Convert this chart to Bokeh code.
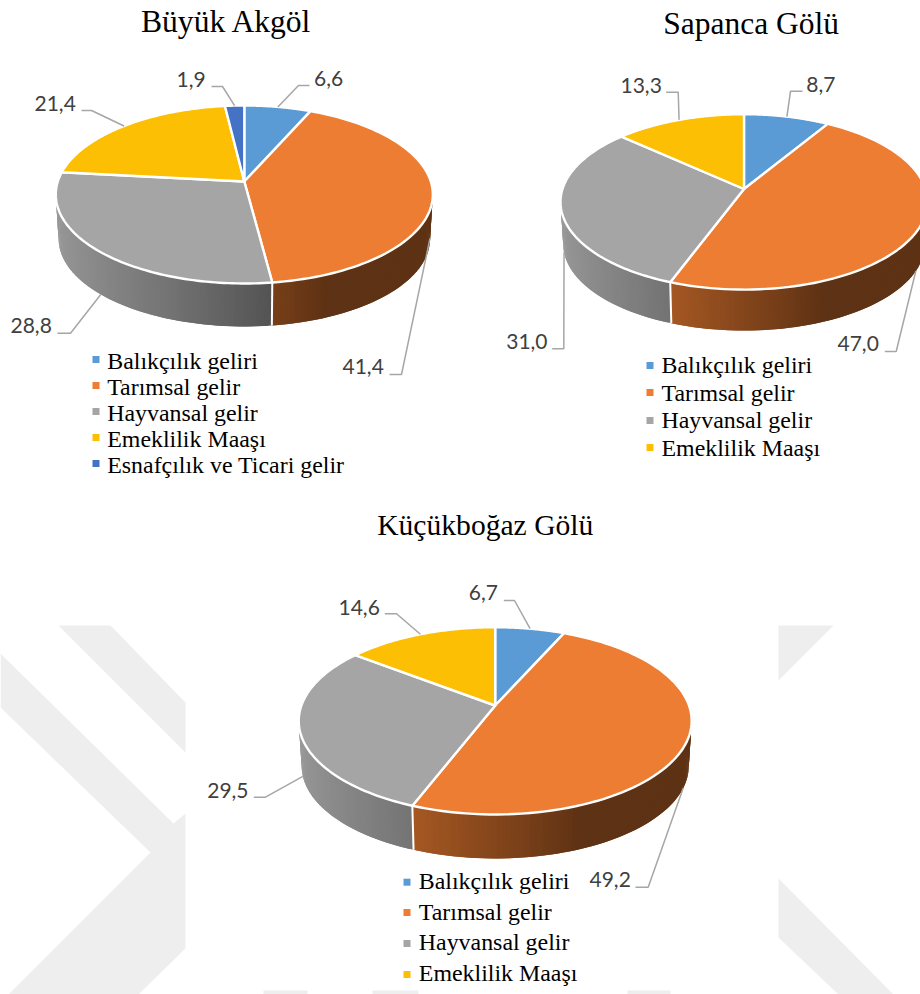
import numpy as np
from bokeh.plotting import figure
from bokeh.models import Range1d
from bokeh.core.properties import value
from bokeh.embed import file_html
from bokeh.resources import INLINE

# ---- data ----
categories = ["Balıkçılık geliri", "Tarımsal gelir", "Hayvansal gelir", "Emeklilik Maaşı", "Esnafçılık ve Ticari gelir"]
colors = ["#5B9BD5", "#EC7D32", "#A5A5A5", "#FCBF03", "#4472C4"]
buyuk_akgol = [6.6, 41.4, 28.8, 21.4, 1.9]
sapanca = [8.7, 47.0, 31.0, 13.3]
kucukbogaz = [6.7, 49.2, 29.5, 14.6]
labels_buyuk = ["6,6", "41,4", "28,8", "21,4", "1,9"]
labels_sapanca = ["8,7", "47,0", "31,0", "13,3"]
labels_kucuk = ["6,7", "49,2", "29,5", "14,6"]

# ---- layout (page pixels) ----
W, H = 920, 994
charts = [
    dict(title="Büyük Akgöl", tx=140.5, ty=30, tsize=31.6, vals=buyuk_akgol, labels=labels_buyuk,
         cx=243.8, cy=181, A=186.5, B=87.1, k=0.146, d=44.5,
         lab=[(313.5, 85.7), (342, 374), (10, 332.7), (34, 110.7), (176, 87)],
         elbow=[((309, 85), (298, 85)), ((389, 374), (401, 374)), ((57, 332.7), (70, 332.7)),
                ((81, 110), (91, 110)), ((211, 86), (222, 86))],
         lx=106.7, base=[367.7, 393.7, 419.7, 445.7, 471.7], mx=92, my=[359, 385, 411, 437, 463]),
    dict(title="Sapanca Gölü", tx=662.7, ty=32.3, tsize=31.5, vals=sapanca, labels=labels_sapanca,
         cx=743.5, cy=188.5, A=181.5, B=85.8, k=0.147, d=42.5,
         lab=[(805.7, 91.7), (837, 351), (505.7, 348.3), (620, 92.3)],
         elbow=[((802, 90.7), (790, 90.7)), ((884.3, 351), (895.7, 351)), ((551.7, 348.3), (563.3, 348.3)),
                ((665.7, 91.7), (677.7, 91.7))],
         lx=661, base=[371.7, 399, 426.7, 454], mx=646, my=[365, 392, 420, 447]),
    dict(title="Küçükboğaz Gölü", tx=376.7, ty=532.7, tsize=29.6, vals=kucukbogaz, labels=labels_kucuk,
         cx=494.7, cy=705, A=193.8, B=91.1, k=0.164, d=45.6,
         lab=[(468.3, 600), (589, 886.7), (206.7, 797.3), (338, 614.3)],
         elbow=[((503.3, 600), (514, 600)), ((635, 886.7), (647.7, 886.7)), ((253.3, 796.7), (265, 796.7)),
                ((384.3, 613.3), (396, 613.3))],
         lx=418.3, base=[887, 918, 948.7, 979.7], mx=403, my=[881.7, 912, 943, 974]),
]
SHRINK = 0.985
WATERMARK = "#EEEEEE"
INK = "#404040"
LEADER = "#A6A6A6"
SERIF_LIFT = 0.29   # Bokeh sets an "alphabetic" text this share of its size too low
SANS_LIFT = 0.36
bands = [
    ([58, 110, 185, 185], [625, 625, 702, 752]),
    ([0, 173, 185, 185, 138, 8, 150, 0], [653, 823, 813, 948, 994, 994, 852, 707]),
    ([778, 833, 778], [625, 625, 680]),
    ([778, 893, 838, 778], [878, 994, 994, 937]),
]
bottom_bits = [(263, 307), (372, 418), (627, 670)]

p = figure(width=W, height=H, output_backend="svg", toolbar_location=None,
           x_range=Range1d(0, W), y_range=Range1d(H, 0), min_border=0)
p.axis.visible = False
p.grid.visible = False
p.outline_line_color = None
p.background_fill_color = "white"
p.border_fill_color = "white"

p.patches([b[0] for b in bands], [b[1] for b in bands], fill_color=WATERMARK, line_color=None)
p.quad(left=[b[0] for b in bottom_bits], right=[b[1] for b in bottom_bits], top=990, bottom=994,
       fill_color=WATERMARK, line_color=None)


def shade(X):
    """Light falls from the left on the pie's wall."""
    return np.interp(X, [-1.0, -0.35, 0.15, 0.38, 1.0], [0.93, 0.70, 0.50, 0.40, 0.40])


def darker(hex_col, f):
    r, g, b = int(hex_col[1:3], 16), int(hex_col[3:5], 16), int(hex_col[5:7], 16)
    return "#%02x%02x%02x" % (int(r * f), int(g * f), int(b * f))


for c in charts:
    vals = np.array(c["vals"], dtype=float)
    edges = np.concatenate([[0], np.cumsum(vals) / vals.sum()]) * 2 * np.pi

    def rim(th, depth=0.0, s=1.0):
        X, Y = np.sin(th), -np.cos(th)
        w = 1 - c["k"] * Y
        return c["cx"] + s * c["A"] * X / w, c["cy"] + depth + s * c["B"] * Y / w

    # wall of the disc: overlapping strips, so no seams show
    for i, col in enumerate(colors[:len(vals)]):
        n = max(2, int((edges[i + 1] - edges[i]) / np.radians(1.0)))
        th = np.linspace(edges[i], edges[i + 1], n + 1)
        xs, ys, fc = [], [], []
        for j in range(n):
            a, b = th[j], th[min(j + 2, n)]
            mid = (th[j] + th[j + 1]) / 2
            if -np.cos(mid) < -0.35:
                continue
            xa, ya = rim(a)
            xb, yb = rim(b)
            xc, yc = rim(b, c["d"], SHRINK)
            xd, yd = rim(a, c["d"], SHRINK)
            xs.append([xa, xb, xc, xd])
            ys.append([ya, yb, yc, yd])
            fc.append(darker(col, float(shade(np.sin(mid)))))
        if xs:
            p.patches(xs, ys, fill_color=fc, line_color=None)

    # white joints on the wall
    for e in edges[:-1]:
        if -np.cos(e) > -0.2:
            x0, y0 = rim(e)
            x1, y1 = rim(e, c["d"], SHRINK)
            p.line([x0, x1], [y0, y1], line_color="white", line_width=2)

    # top face
    for i, col in enumerate(colors[:len(vals)]):
        th = np.linspace(edges[i], edges[i + 1], 90)
        x, y = rim(th)
        p.patch(np.r_[c["cx"], x], np.r_[c["cy"], y], fill_color=col, line_color="white",
                line_width=2.4, line_join="round")

    # leader lines and value labels
    mids = (edges[:-1] + edges[1:]) / 2
    for mid, (start, knee) in zip(mids, c["elbow"]):
        if -np.cos(mid) > 0.0:
            ax, ay = rim(mid, c["d"], SHRINK)
        else:
            ax, ay = rim(mid)
        p.line([start[0], knee[0], ax], [start[1], knee[1], ay], line_color=LEADER, line_width=1.5)
    p.text([q[0] for q in c["lab"]], [q[1] - SANS_LIFT * 21 for q in c["lab"]], text=c["labels"],
           text_font=value("Lato"), text_font_size="21px", text_color=INK,
           text_baseline="alphabetic", text_align="left")

    # title and legend
    p.text([c["tx"]], [c["ty"] - SERIF_LIFT * c["tsize"]], text=[c["title"]], text_font=value("Liberation Serif"),
           text_font_size=f'{c["tsize"]}px', text_color="black", text_baseline="alphabetic")
    m = len(vals)
    p.text([c["lx"]] * m, [b - SERIF_LIFT * 23.9 for b in c["base"]], text=categories[:m],
           text_font=value("Liberation Serif"),
           text_font_size="23.9px", text_color="black", text_baseline="alphabetic")
    p.quad(left=[c["mx"]] * m, right=[c["mx"] + 7] * m,
           top=[y - 3.5 for y in c["my"]], bottom=[y + 3.5 for y in c["my"]],
           fill_color=colors[:m], line_color=None)

open("out.html", "w").write(file_html(p, INLINE))
